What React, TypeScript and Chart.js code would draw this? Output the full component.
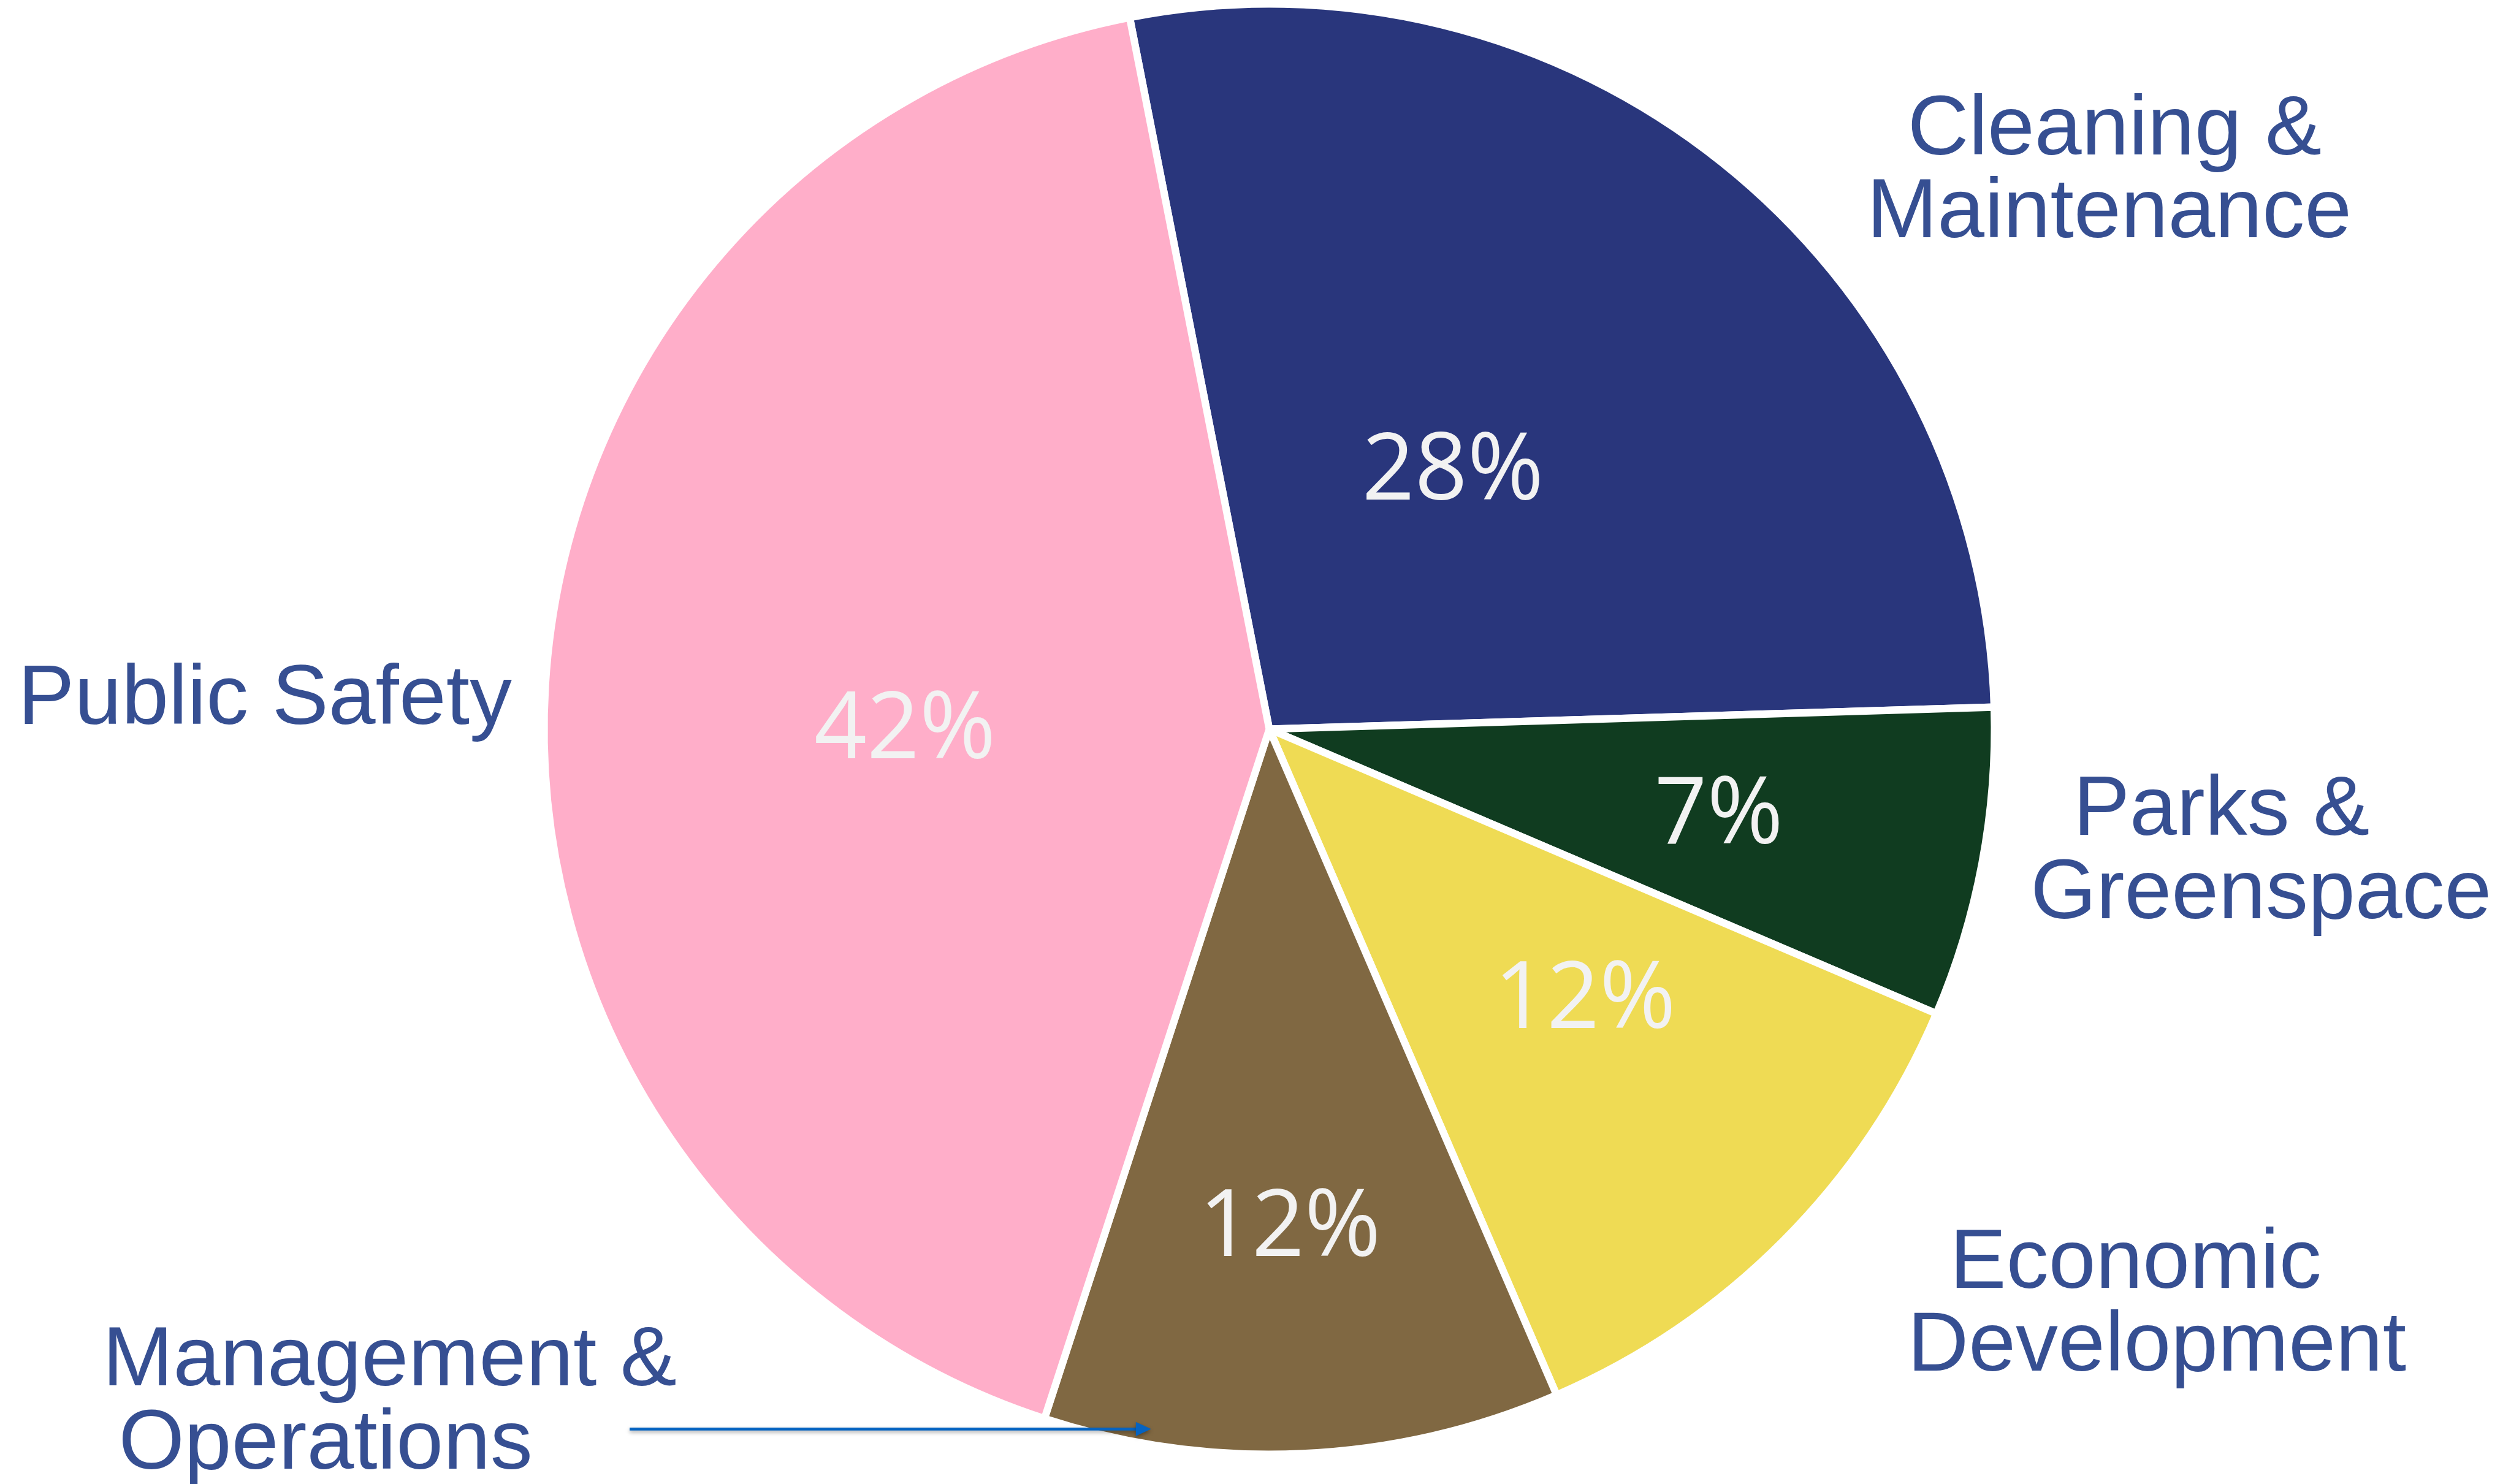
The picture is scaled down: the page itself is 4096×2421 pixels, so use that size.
import React, { useEffect, useRef } from "react";
import { Chart, registerables } from "chart.js";

Chart.register(...registerables);

// ---- data ----
const categories = [
  "Cleaning & Maintenance",
  "Parks & Greenspace",
  "Economic Development",
  "Management & Operations",
  "Public Safety",
];
const shares = [27.6, 6.9, 12.1, 11.5, 41.9];
const percentLabels = ["28%", "7%", "12%", "12%", "42%"];
const categoryLines = [
  ["Cleaning &", "Maintenance"],
  ["Parks &", "Greenspace"],
  ["Economic", "Development"],
  ["Management &", "Operations"],
  ["Public Safety"],
];
const sliceColors = ["#29367C", "#103C20", "#EFDB54", "#806842", "#FFAEC9"];

// ---- layout (reference pixel coordinates, scaled by S) ----
const S = 0.959;
const W = 4096;
const H = 2421;
const outerLabelPos = [
  [[3252, 263], [3187, 404]],
  [[3538, 1420], [3460, 1562]],
  [[3328, 2191], [3256, 2332]],
  [[186, 2357], [208, 2498]],
  [[42, 1231]],
];
const pctCenters = [
  [2471, 792],
  [2923, 1377],
  [2699, 1691],
  [2197, 2079],
  [1537, 1233],
];

const labelPlugin = {
  id: "customLabels",
  afterDatasetsDraw(chart: any) {
    const ctx = chart.ctx as CanvasRenderingContext2D;
    ctx.save();

    // percentage labels
    const pctSize = 158 * S;
    ctx.font = `${pctSize}px "Open Sans", "Noto Sans", sans-serif`;
    const ref = ctx.measureText("12%");
    const refW = ref.actualBoundingBoxLeft + ref.actualBoundingBoxRight;
    const sx = (288 * S) / refW;
    ctx.fillStyle = "#F2F2F2";
    ctx.textAlign = "left";
    ctx.textBaseline = "alphabetic";
    percentLabels.forEach((t, i) => {
      const m = ctx.measureText(t);
      const cx = pctCenters[i][0] * S;
      const cy = pctCenters[i][1] * S;
      const inkMidX = (m.actualBoundingBoxRight - m.actualBoundingBoxLeft) / 2;
      const inkMidY = (m.actualBoundingBoxDescent - m.actualBoundingBoxAscent) / 2;
      ctx.save();
      ctx.translate(cx, cy);
      ctx.scale(sx, 1);
      ctx.fillText(t, -inkMidX, -inkMidY);
      ctx.restore();
    });

    // category labels
    ctx.font = `${144 * S}px "Liberation Sans", Arial, sans-serif`;
    ctx.fillStyle = "#364F92";
    categoryLines.forEach((lines, i) => {
      lines.forEach((line, j) => {
        const m = ctx.measureText(line);
        const [lx, by] = outerLabelPos[i][j];
        ctx.fillText(line, lx * S + m.actualBoundingBoxLeft, by * S);
      });
    });

    // annotation arrow
    const y = 2431 * S;
    const x0 = 1071 * S;
    const xBase = 1932 * S;
    const xTip = 1958 * S;
    ctx.shadowColor = "rgba(0,0,0,0.35)";
    ctx.shadowBlur = 6;
    ctx.shadowOffsetY = 3;
    ctx.strokeStyle = "#0563C1";
    ctx.fillStyle = "#0563C1";
    ctx.lineWidth = 5 * S;
    ctx.beginPath();
    ctx.moveTo(x0, y);
    ctx.lineTo(xBase + 2, y);
    ctx.stroke();
    ctx.beginPath();
    ctx.moveTo(xTip, y);
    ctx.lineTo(xBase, y - 12 * S);
    ctx.lineTo(xBase, y + 12 * S);
    ctx.closePath();
    ctx.fill();

    ctx.restore();
  },
};

export default function App() {
  const canvasRef = useRef<HTMLCanvasElement | null>(null);

  useEffect(() => {
    const canvas = canvasRef.current;
    if (!canvas) return;
    const chart = new Chart(canvas, {
      type: "pie",
      data: {
        labels: categories,
        datasets: [
          {
            data: shares,
            backgroundColor: sliceColors,
            borderColor: "#FFFFFF",
            borderWidth: 12,
            borderJoinStyle: "miter",
          } as any,
        ],
      },
      options: {
        responsive: false,
        animation: false,
        rotation: -11.1,
        radius: 1183,
        layout: { padding: { left: 45, right: 0, top: 0, bottom: 42 } },
        plugins: {
          legend: { display: false },
          tooltip: { enabled: false },
        },
      } as any,
      plugins: [labelPlugin],
    });
    return () => chart.destroy();
  }, []);

  return (
    <div
      style={{
        position: "fixed",
        left: 0,
        top: 0,
        width: W,
        height: H,
        background: "#FFFFFF",
      }}
    >
      <canvas ref={canvasRef} width={W} height={H} style={{ display: "block" }} />
    </div>
  );
}
